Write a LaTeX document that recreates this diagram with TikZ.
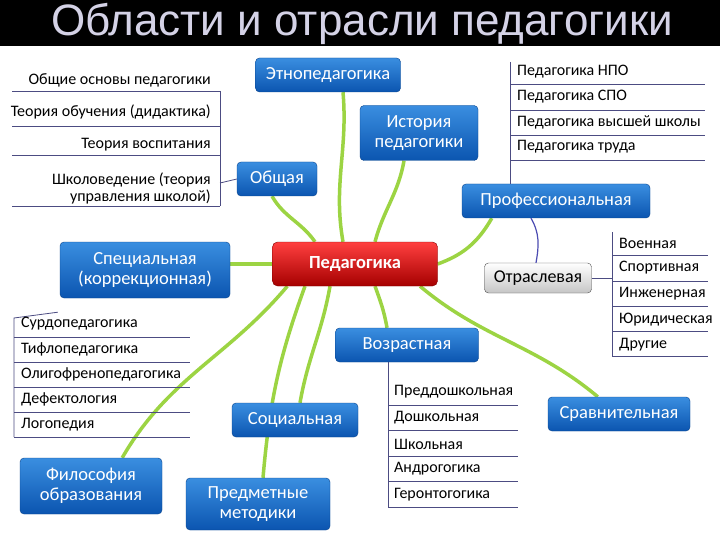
\documentclass[tikz,border=0pt]{standalone}
\usepackage{fontspec}
\setmainfont{Carlito}
\newfontfamily\titlefont{Liberation Sans}
\usetikzlibrary{backgrounds}
\definecolor{btop}{HTML}{3A8EE0}
\definecolor{bbot}{HTML}{0B55B0}
\definecolor{brg}{HTML}{9CD443}
\definecolor{titc}{HTML}{D4D2E6}
\begin{document}
\begin{tikzpicture}[x=1pt,y=-1pt,
 bbox/.style={rounded corners=4pt,top color=btop,bottom color=bbot,draw=bbot!80!black,text=white,font=\fontsize{18.5}{20}\selectfont,align=center,inner sep=4pt},
 br/.style={line width=3.5pt,draw=brg},
 lst/.style={draw=blue!30!black!70,line width=0.8pt},
 it/.style={font=\fontsize{16}{17}\selectfont,inner sep=1pt}]
\useasboundingbox (0,0) rectangle (720,540);
% boxes
\node[bbox,minimum width=145,minimum height=34] (etno) at (328,75) {Этнопедагогика};
\node[bbox,minimum width=118,minimum height=55] (hist) at (419,133) {История\\педагогики};
\node[bbox,minimum width=80,minimum height=34] (gen) at (277,179) {Общая};
\node[bbox,minimum width=188,minimum height=34] (prof) at (556,201) {Профессиональная};
\node[bbox,minimum width=170,minimum height=56] (spec) at (145,270) {Специальная\\(коррекционная)};
\node[bbox,minimum width=143,minimum height=34] (age) at (407,345) {Возрастная};
\node[bbox,minimum width=126,minimum height=34] (soc) at (295,420) {Социальная};
\node[bbox,minimum width=142,minimum height=34] (comp) at (619,414) {Сравнительная};
\node[bbox,minimum width=142,minimum height=56] (phil) at (91,486) {Философия\\образования};
\node[bbox,minimum width=144,minimum height=52] (subj) at (258,504) {Предметные\\методики};
\node[rounded corners=4pt,top color=white,bottom color=gray!45,draw=black!70,minimum width=107,minimum height=30,font=\fontsize{18}{19}\selectfont] (otr) at (538,278) {Отраслевая};
\node[rounded corners=5pt,top color=red!75,bottom color=red!65!black,draw=red!50!black,text=white,font=\bfseries\fontsize{18.5}{20}\selectfont,minimum width=165,minimum height=44] (ped) at (355,264) {Педагогика};
\begin{pgfonlayer}{background}
\fill[white] (0,0) rectangle (720,540);
\draw[br] (ped.north) ++(-12,0) to[out=100,in=-85] ([xshift=15]etno.south);
\draw[br] (ped.north) ++(20,0) to[out=75,in=-100] ([xshift=-15]hist.south);
\draw[br] (ped.north) ++(-40,0) to[out=125,in=-60] ([xshift=-5]gen.south);
\draw[br] (ped.east) to[out=20,in=-120] ([xshift=30]prof.south west);
\draw[br] (ped.west) to (spec.east |- ped.west);
\draw[br] (ped.south) ++(20,0) to[out=-70,in=100] ([xshift=-20]age.north);
\draw[br] (ped.south) ++(65,0) to[out=-40,in=140] ([xshift=50]comp.north west);
\draw[br] (ped.south) ++(-25,0) to[out=-100,in=80] ([xshift=5]soc.north);
\draw[br] (ped.south) ++(-50,0) to[out=-110,in=85] ([xshift=5]subj.north);
\draw[br] (ped.south west) ++(15,0) to[out=-130,in=60] ([xshift=-40]phil.north east);
\end{pgfonlayer}
\fill[black] (0,0) rectangle (720,46);
\node[text=titc,font=\titlefont\fontsize{44}{46}\selectfont] (title) at (362,24) {Области и отрасли педагогики};
\draw[blue!40!gray,line width=1.2pt] ([xshift=-25]prof.south) to[out=-60,in=80] ([xshift=-2]otr.north);
% left top list
\draw[lst] (220,91) -- (220,206);
\foreach \y in {91,126,155,206} \draw[lst] (12,\y) -- (220,\y);
\draw[lst] (220,183) -- (gen.west);
\node[it,anchor=east] (g1) at (212,80) {Общие основы педагогики};
\node[it,anchor=east] (g2) at (212,112) {Теория обучения (дидактика)};
\node[it,anchor=east] (g3) at (212,145) {Теория воспитания};
\node[it,anchor=east,align=right] (g4) at (212,188) {Школоведение (теория\\управления школой)};
% top right list
\draw[lst] (510,62) -- (510,184);
\foreach \y in {84,110,135,160} \draw[lst] (510,\y) -- (705,\y);
\node[it,anchor=west] (p1t) at (516,72) {Педагогика НПО};
\node[it,anchor=west] (p2t) at (516,97) {Педагогика СПО};
\node[it,anchor=west] (p3t) at (516,122) {Педагогика высшей школы};
\node[it,anchor=west] (p4t) at (516,147) {Педагогика труда};
% otr list
\draw[lst] (612,232) -- (612,356);
\draw[lst] (otr.east) -- (612,278);
\foreach \y in {255,281,306,331,356} \draw[lst] (612,\y) -- (708,\y);
\node[it,anchor=west] (o1) at (618,243) {Военная};
\node[it,anchor=west] (o2) at (618,268) {Спортивная};
\node[it,anchor=west] (o3) at (618,294) {Инженерная};
\node[it,anchor=west] (o4) at (618,320) {Юридическая};
\node[it,anchor=west] (o5) at (618,345) {Другие};
% spec list
\draw[lst] ([xshift=-2,yshift=-14]spec.south west) -- (14,318) -- (14,437);
\foreach \y in {337,362,387,412,437} \draw[lst] (14,\y) -- (190,\y);
\node[it,anchor=west] (s1) at (20,324) {Сурдопедагогика};
\node[it,anchor=west] (s2) at (20,349) {Тифлопедагогика};
\node[it,anchor=west] (s3) at (20,374) {Олигофренопедагогика};
\node[it,anchor=west] (s4) at (20,399) {Дефектология};
\node[it,anchor=west] (s5) at (20,425) {Логопедия};
% age list
\draw[lst] (388,362) -- (388,507);
\foreach \y in {405,430,456,481,507} \draw[lst] (388,\y) -- (518,\y);
\node[it,anchor=west] (a1) at (393,392) {Преддошкольная};
\node[it,anchor=west] (a2) at (393,418) {Дошкольная};
\node[it,anchor=west] (a3) at (393,444) {Школьная};
\node[it,anchor=west] (a4) at (393,469) {Андрогогика};
\node[it,anchor=west] (a5) at (393,495) {Геронтогогика};
\end{tikzpicture}
\end{document}
